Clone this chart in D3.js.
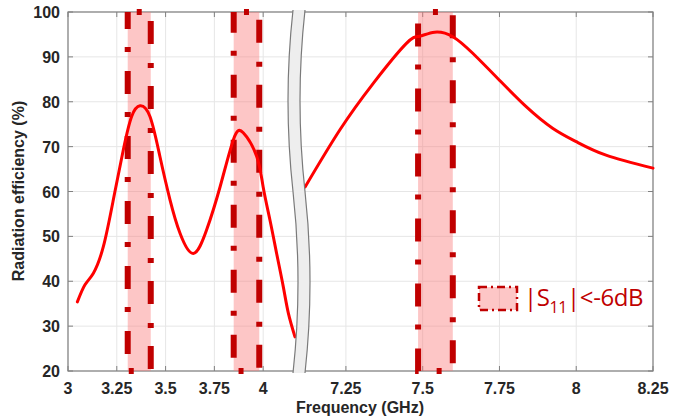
<!doctype html>
<html>
<head>
<meta charset="utf-8">
<title>Radiation efficiency</title>
<script src="https://cdn.jsdelivr.net/npm/d3@7"></script>
<style>
    html, body { margin: 0; padding: 0; background: #fff; }
    svg { display: block; }
</style>
</head>
<body>
<svg id="chart" width="689" height="420"></svg>
<script>
// low band (GHz) and efficiency (%)
var lowFreq = [3.048, 3.087, 3.13, 3.181, 3.232, 3.283, 3.326, 3.369, 3.42, 3.471, 3.523, 3.574,
               3.642, 3.71, 3.779, 3.847, 3.898, 3.967, 4.0, 4.035, 4.069, 4.103, 4.129, 4.163];
var lowEff  = [35.4, 39.2, 41.8, 47.7, 58.1, 69.2, 76.7, 79.1, 76.7, 67.8, 58.1, 50.7,
               46.2, 51.4, 61.0, 71.5, 73.1, 67.8, 61.0, 53.6, 46.2, 38.8, 32.9, 27.6];
// high band
var highFreq = [7.117, 7.23, 7.339, 7.447, 7.49, 7.539, 7.598, 7.663, 7.75, 7.837, 7.923, 8.0, 8.097, 8.25];
var highEff  = [61.0, 73.7, 84.1, 93.0, 94.6, 95.5, 94.5, 90.8, 84.8, 78.9, 74.1, 71.1, 68.1, 65.2];

// |S11| < -6dB bands
var lowBands  = [[3.306, 3.424], [3.849, 3.98]];
var highBands = [[7.485, 7.598]];

var lowTicks  = [3, 3.25, 3.5, 3.75, 4];
var highTicks = [7.25, 7.5, 7.75, 8, 8.25];
var yTicks    = [20, 30, 40, 50, 60, 70, 80, 90, 100];

var svg = d3.select('#chart');
var top_ = 12, bottom = 371, left = 68, right = 653;

var xLow  = d3.scaleLinear().domain([3, 4.158]).range([left, 294]);
var xHigh = d3.scaleLinear().domain([7.12, 8.25]).range([306, right]);
var y = d3.scaleLinear().domain([20, 100]).range([bottom, top_]);

var axisCol = '#808080', textCol = '#262626';
var bandRed = '#c00000';

// grid
var grid = svg.append('g').attr('stroke', '#e6e6e6').attr('stroke-width', 1);
yTicks.forEach(function(t) {
    grid.append('line').attr('x1', left).attr('x2', right).attr('y1', y(t)).attr('y2', y(t));
});
lowTicks.forEach(function(t) {
    grid.append('line').attr('x1', xLow(t)).attr('x2', xLow(t)).attr('y1', top_).attr('y2', bottom);
});
highTicks.forEach(function(t) {
    grid.append('line').attr('x1', xHigh(t)).attr('x2', xHigh(t)).attr('y1', top_).attr('y2', bottom);
});

// box
svg.append('rect').attr('x', left).attr('y', top_)
    .attr('width', right - left).attr('height', bottom - top_)
    .attr('fill', 'none').attr('stroke', axisCol).attr('stroke-width', 1.2);

// ticks (inward)
var tk = svg.append('g').attr('stroke', axisCol).attr('stroke-width', 1);
yTicks.forEach(function(t) {
    tk.append('line').attr('x1', left).attr('x2', left + 5).attr('y1', y(t)).attr('y2', y(t));
    tk.append('line').attr('x1', right).attr('x2', right - 5).attr('y1', y(t)).attr('y2', y(t));
});
function xTickMarks(sc, ticks) {
    ticks.forEach(function(t) {
        tk.append('line').attr('x1', sc(t)).attr('x2', sc(t)).attr('y1', bottom).attr('y2', bottom - 5);
        tk.append('line').attr('x1', sc(t)).attr('x2', sc(t)).attr('y1', top_).attr('y2', top_ + 5);
    });
}
xTickMarks(xLow, lowTicks);
xTickMarks(xHigh, highTicks);

// shaded bands
function drawBands(sc, bands) {
    bands.forEach(function(b) {
        var w = sc(b[1]) - sc(b[0]);
        svg.append('rect')
            .attr('x', sc(b[0])).attr('y', y(100))
            .attr('width', w).attr('height', y(20) - y(100))
            .attr('fill', 'rgba(250,120,120,0.42)')
            .attr('stroke', bandRed).attr('stroke-width', 6)
            .attr('stroke-dasharray', '23,19,5,18')
            .attr('stroke-dashoffset', 44.5 - w / 2);   // small dot centred on the top edge
    });
}
drawBands(xLow, lowBands);
drawBands(xHigh, highBands);

// curves
function drawCurve(sc, xs, ys) {
    var line = d3.line()
        .x(function(d) { return sc(d[0]); })
        .y(function(d) { return y(d[1]); })
        .curve(d3.curveNatural);
    svg.append('path').datum(d3.zip(xs, ys))
        .attr('d', line)
        .attr('fill', 'none').attr('stroke', '#ff0000').attr('stroke-width', 3)
        .attr('stroke-linecap', 'round');
}
drawCurve(xLow, lowFreq, lowEff);
drawCurve(xHigh, highFreq, highEff);

// axis break
var bx0 = xLow.range()[1] - 1, bx1 = xHigh.range()[0] - 1;
var ym = (top_ + bottom) / 2, t0 = top_ - 2, b0 = bottom + 2;
var bend = 10;
function edge(x) {
    return 'M' + x + ',' + t0 +
        ' Q' + (x - bend) + ',' + ((t0 + ym) / 2) + ' ' + x + ',' + ym +
        ' Q' + (x + bend) + ',' + ((ym + b0) / 2) + ' ' + x + ',' + b0;
}
var brk = edge(bx0) +
    ' L' + bx1 + ',' + b0 +
    ' Q' + (bx1 + bend) + ',' + ((ym + b0) / 2) + ' ' + bx1 + ',' + ym +
    ' Q' + (bx1 - bend) + ',' + ((t0 + ym) / 2) + ' ' + bx1 + ',' + t0 + ' Z';
svg.append('path').attr('d', brk).attr('fill', '#eeeeee').attr('stroke', 'none');
[edge(bx0), edge(bx1)].forEach(function(d) {
    svg.append('path').attr('d', d).attr('fill', 'none').attr('stroke', '#7a7a7a').attr('stroke-width', 1.2);
});

// tick labels
var font = "'Liberation Sans', Arial, sans-serif";
var lbl = svg.append('g').attr('font-family', font).attr('font-weight', 'bold')
    .attr('font-size', 16).attr('fill', textCol);
yTicks.forEach(function(t) {
    lbl.append('text').attr('x', 60).attr('y', y(t) + 6).attr('text-anchor', 'end').text(t);
});
lowTicks.forEach(function(t) {
    lbl.append('text').attr('x', xLow(t)).attr('y', 394).attr('text-anchor', 'middle').text(t);
});
highTicks.forEach(function(t) {
    lbl.append('text').attr('x', xHigh(t)).attr('y', 394).attr('text-anchor', 'middle').text(t);
});

// axis titles
lbl.append('text').attr('x', 360).attr('y', 413).attr('text-anchor', 'middle').text('Frequency (GHz)');
lbl.append('text').attr('transform', 'translate(24,191) rotate(-90)')
    .attr('text-anchor', 'middle').text('Radiation efficiency (%)');

// legend
svg.append('rect').attr('x', 479).attr('y', 287).attr('width', 38).attr('height', 23)
    .attr('fill', 'rgba(250,120,120,0.42)')
    .attr('stroke', bandRed).attr('stroke-width', 2.5)
    .attr('stroke-dasharray', '8,4,2,4');
var lt = svg.append('text').attr('x', 524).attr('y', 306)
    .attr('font-family', "'Open Sans', 'Noto Sans', sans-serif")
    .attr('font-size', 24).attr('fill', bandRed).attr('letter-spacing', -0.4);
lt.append('tspan').text('|S');
lt.append('tspan').attr('font-size', 16).attr('dy', 7).text('11');
lt.append('tspan').attr('dy', -7).text('|<-6dB');
</script>
</body>
</html>
